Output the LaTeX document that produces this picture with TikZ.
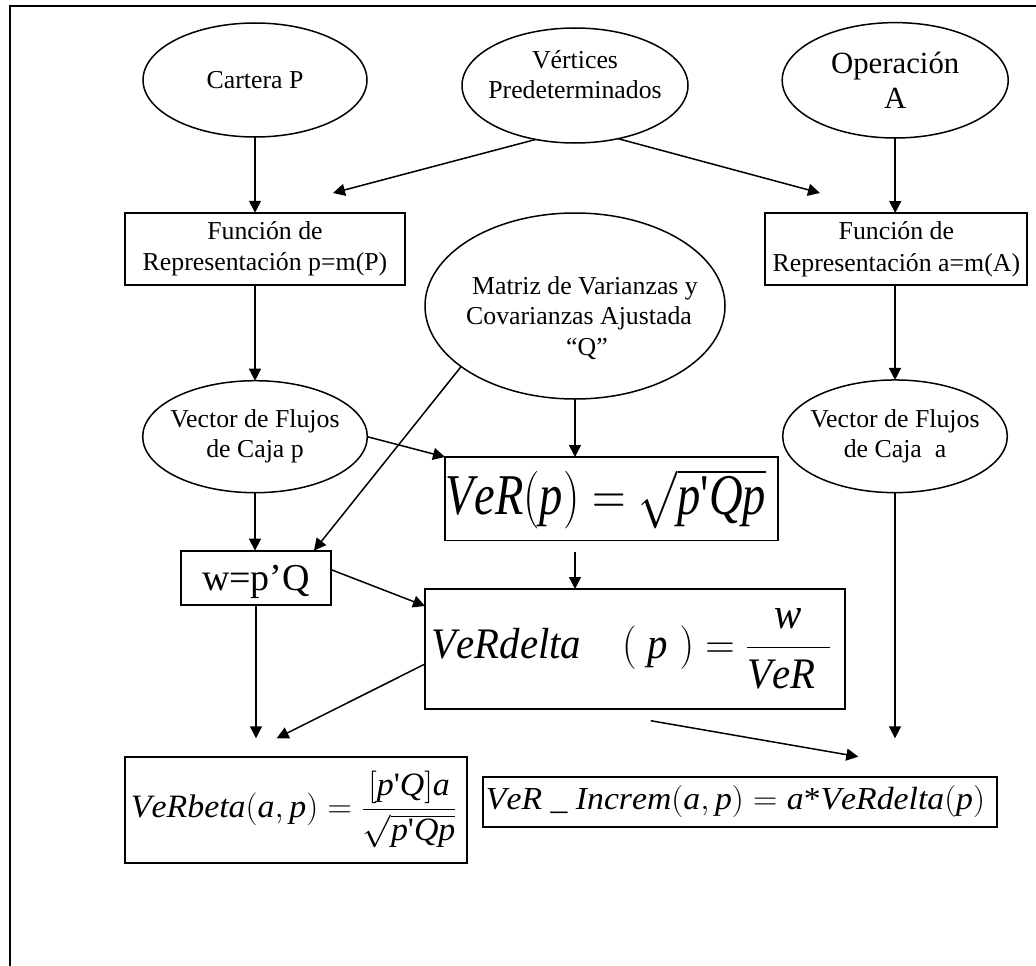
\RequirePackage{fix-cm}
\documentclass[tikz,border=0pt]{standalone}
\usepackage{fontspec}
\setmainfont{Liberation Serif}
\usepackage{graphicx}
\usetikzlibrary{shapes.geometric,arrows.meta,calc}

% type sizes
\newcommand{\fEll}{\fontsize{25.8pt}{30pt}\selectfont}
\newcommand{\fBox}{\fontsize{25.8pt}{31.7pt}\selectfont}
\newcommand{\fOp}{\fontsize{30.8pt}{35pt}\selectfont}
\newcommand{\fMat}{\fontsize{25.8pt}{30.8pt}\selectfont}
\newcommand{\fW}{\fontsize{38pt}{44pt}\selectfont}
\newcommand{\fBig}{\fontsize{44pt}{50pt}\selectfont}
\newcommand{\fMid}{\fontsize{33pt}{38pt}\selectfont}
% straight apostrophe used as transpose mark
\newcommand{\ptick}{\mbox{\textquotesingle}}
% upright delimiters and relations taken from the text face
\newcommand{\oLp}{\mathopen{\mathrm{(}}}
\newcommand{\oRp}{\mathclose{\mathrm{)}}}
\newcommand{\oLb}{\mathopen{\mathrm{[}}}
\newcommand{\oRb}{\mathclose{\mathrm{]}}}
\newcommand{\oEq}{\mathrel{\mathrm{=}}}
\newcommand{\oCm}{\mathpunct{\mathrm{,}}}

\begin{document}
\begin{tikzpicture}[x=1pt,y=-1pt,
  ell/.style={ellipse, draw, line width=1.5pt, inner xsep=-20pt, inner ysep=-10pt,
              outer sep=0pt, align=center, font=\fEll},
  bx/.style={rectangle, draw, line width=1.9pt, inner sep=0pt, outer sep=0pt},
  arr/.style={line width=1.5pt, -{Triangle[length=12pt,width=12pt]}},
  frame/.style={line width=2.6pt},
]
\useasboundingbox (0,0) rectangle (1036,966);

% open frame: top and left sides only
\draw[frame] (10,966) -- (10,6) -- (1036,6);

% inputs
\node[ell, minimum width=224pt, minimum height=114pt] (cartera) at (255,80) {Cartera P};
\node[ell, minimum width=226pt, minimum height=115pt] (vert) at (575,85.5)
  {Vértices\\Predeterminados\rule[-22pt]{0pt}{22pt}};
\node[ell, minimum width=226pt, minimum height=115.4pt, font=\fOp] (oper) at (895.2,80.3)
  {Operación\\A};

% mapping functions
\node[bx, minimum width=280pt, minimum height=72.3pt, align=center, font=\fBox] (fp) at (265,248.9)
  {Función de\\Representación p=m(P)};
\node[bx, minimum width=262pt, minimum height=72pt, align=center, font=\fBox] (fa) at (896.4,249)
  {Función de\\Representación a=m(A)};

% covariance matrix
\node[ell, minimum width=300pt, minimum height=186pt, font=\fMat] (mat) at (575,306)
  {\rule{0pt}{42pt}\hspace*{20pt}Matriz de Varianzas y\\\hspace*{8pt}Covarianzas Ajustada\\\hspace*{24pt}“Q”};

% cash-flow vectors
\node[ell, minimum width=224.6pt, minimum height=112pt] (vp) at (255,436.7)
  {Vector de Flujos\\de Caja p};
\node[ell, minimum width=224.6pt, minimum height=112.7pt] (va) at (895,436.3)
  {Vector de Flujos\\de Caja\ \ a};

% results
\node[bx, minimum width=333pt, minimum height=83.5pt, font=\fBig] (ver) at (611.5,498.75)
  {\resizebox*{320pt}{60pt}{$\mathit{VeR}\oLp\mathit{p}\oRp\oEq\sqrt{\mathit{p}\ptick\mathit{Qp}}$}\hspace*{11pt}\rule[-11.5pt]{0pt}{11.5pt}};
\node[bx, minimum width=150pt, minimum height=54pt, font=\fW, text depth=0pt] (wbox) at (256,577.6)
  {w=p’Q};
\node[bx, minimum width=420pt, minimum height=120pt, font=\fBig] (delta) at (635,649)
  {\resizebox*{399pt}{80pt}{$\displaystyle\mathit{VeRdelta}\quad\oLp\;\mathit{p}\;\oRp\oEq\frac{\mathit{w}}{\mathit{VeR}\hspace{0.35em}}$}\hspace*{7.6pt}};
\node[bx, minimum width=341.7pt, minimum height=106pt, font=\fMid] (beta) at (295.8,809.7)
  {\resizebox*{325.7pt}{77pt}{$\displaystyle\mathit{VeRbeta}\oLp\mathit{a}\oCm\mathit{p}\oRp\oEq\frac{\oLb\mathit{p}\ptick\mathit{Q}\oRb\mathit{a}}{\sqrt{\mathit{p}\ptick\mathit{Qp}}}$}\hspace*{4pt}\rule[-6pt]{0pt}{6pt}};
\node[bx, minimum width=514pt, minimum height=50pt, font=\fMid] (incr) at (739.7,801.7)
  {\resizebox*{499pt}{32pt}{$\mathit{VeR}\ \mbox{\_}\ \mathit{Increm}\oLp\mathit{a}\oCm\mathit{p}\oRp\oEq\mathit{a}\mbox{*}\mathit{VeRdelta}\oLp\mathit{p}\oRp$}\hspace*{8.4pt}\rule[-9.4pt]{0pt}{9.4pt}};

% free arrow ends
\coordinate (vtipL) at (333,193);
\coordinate (vtipR) at (820,193);
\coordinate (wtip) at (256,738.3);
\coordinate (btip) at (276.7,738.3);
\coordinate (atip) at (895,738.3);
\coordinate (itip) at (858.3,756.7);

% connectors
\draw[arr] (cartera.south) -- (cartera.south |- fp.north);
\draw[arr] (oper.south) -- (oper.south |- fa.north);
\draw[arr] (vert.234) -- (vtipL);
\draw[arr] (vert.309) -- (vtipR);
\draw[arr] (vp.north |- fp.south) -- (vp.north);
\draw[arr] (va.north |- fa.south) -- (va.north);
\draw[arr] (mat.south) -- (mat.south |- ver.north);
\draw[arr] (mat.208) -- ($(wbox.north east)+(-17,0)$);
\draw[arr] (vp.east) -- (ver.north west);
\draw[arr] (vp.south) -- (vp.south |- wbox.north);
\draw[arr] ($(mat.south |- ver.south)+(0,11.2)$) -- (mat.south |- delta.north);
\draw[arr] ($(wbox.east)+(0,-8)$) -- ($(delta.north west)+(0,17)$);
\draw[arr] (wbox.south) -- (wtip);
\draw[arr] ($(delta.west)+(0,15)$) -- (btip);
\draw[arr] ($(delta.south)+(15.7,11.7)$) -- (itip);
\draw[arr] (va.south) -- (atip);

\end{tikzpicture}
\end{document}
